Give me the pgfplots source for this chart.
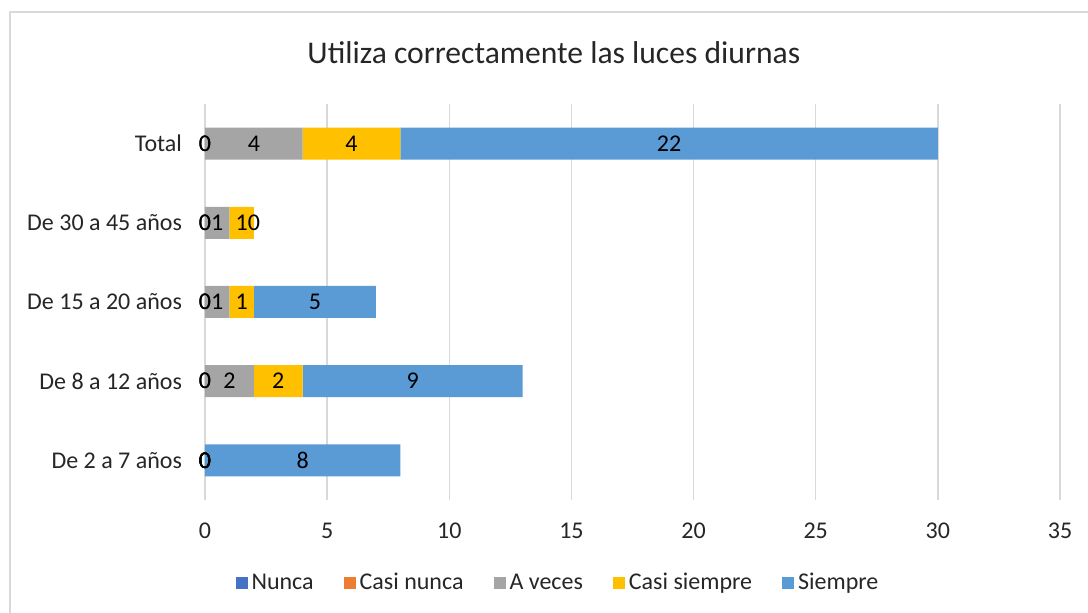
\documentclass[border=0pt]{standalone}
\usepackage{pgfplots}
\pgfplotsset{compat=1.18}
\usepackage{pgfplotstable}
\usepackage{fontspec}
\setmainfont{Carlito}

\definecolor{cNunca}{HTML}{4472C4}
\definecolor{cCasiNunca}{HTML}{ED7D31}
\definecolor{cAVeces}{HTML}{A5A5A5}
\definecolor{cCasiSiempre}{HTML}{FFC000}
\definecolor{cSiempre}{HTML}{5B9BD5}
\definecolor{gridgray}{HTML}{D9D9D9}
\definecolor{txt}{HTML}{262626}

% y: 0 = De 2 a 7 ... 4 = Total
\pgfplotstableread{
y nunca casinunca aveces casisiempre siempre
0 0 0 0 0 8
1 0 0 2 2 9
2 0 0 1 1 5
3 0 0 1 1 0
4 0 0 4 4 22
}\datos

\begin{document}
\begin{tikzpicture}
\begin{axis}[
    at={(0,0)}, anchor=south west,
    scale only axis,
    width=427.5pt, height=198pt,
    xbar stacked, bar width=16pt,
    xmin=0, xmax=35, ymin=-0.5, ymax=4.5,
    clip=false,
    xtick={0,5,...,35},
    ytick={0,...,4},
    yticklabels={De 2 a 7 años, De 8 a 12 años, De 15 a 20 años, De 30 a 45 años, Total},
    axis line style={draw=none},
    major tick length=0pt,
    xmajorgrids,
    major grid style={draw=gridgray, line width=0.75pt},
    ticklabel style={font=\fontsize{12}{14}\selectfont, text=txt},
    xticklabel style={yshift=-8pt},
    yticklabel style={xshift=-8pt},
    /pgf/number format/assume math mode=true,
    title={Utiliza correctamente las luces diurnas},
    title style={at={(0.408,1.099)}, anchor=center, font=\fontsize{15.8}{19}\selectfont, text=txt},
    legend style={at={(0.414,-0.2096)}, anchor=center, draw=none, fill=none,
        legend columns=5, font=\fontsize{12}{14}\selectfont, text=txt,
        /tikz/every even column/.append style={column sep=13pt}},
    legend image code/.code={\fill[#1] (0pt,-3pt) rectangle (6pt,3pt);},
    % label layer: an unstacked, invisible bar whose label sits at its middle,
    % so its length is (start of segment)*2 + value
    lbl/.style={draw=none, fill=none, forget plot, stack plots=false,
        nodes near coords, point meta=explicit,
        every node near coord/.append style={anchor=center, inner sep=0pt,
            font=\fontsize{12}{14}\selectfont, text=black}},
]
\addplot[fill=cNunca, draw=none] table[x=nunca, y=y]{\datos};
\addlegendentry{Nunca}
\addplot[fill=cCasiNunca, draw=none] table[x=casinunca, y=y]{\datos};
\addlegendentry{Casi nunca}
\addplot[fill=cAVeces, draw=none] table[x=aveces, y=y]{\datos};
\addlegendentry{A veces}
\addplot[fill=cCasiSiempre, draw=none] table[x=casisiempre, y=y]{\datos};
\addlegendentry{Casi siempre}
\addplot[fill=cSiempre, draw=none] table[x=siempre, y=y]{\datos};
\addlegendentry{Siempre}

\addplot[lbl] table[x expr=\thisrow{nunca}, y=y, meta=nunca]{\datos};
\addplot[lbl] table[x expr=2*\thisrow{nunca}+\thisrow{casinunca}, y=y, meta=casinunca]{\datos};
\addplot[lbl] table[x expr=2*(\thisrow{nunca}+\thisrow{casinunca})+\thisrow{aveces}, y=y, meta=aveces]{\datos};
\addplot[lbl] table[x expr=2*(\thisrow{nunca}+\thisrow{casinunca}+\thisrow{aveces})+\thisrow{casisiempre}, y=y, meta=casisiempre]{\datos};
\addplot[lbl] table[x expr=2*(\thisrow{nunca}+\thisrow{casinunca}+\thisrow{aveces}+\thisrow{casisiempre})+\thisrow{siempre}, y=y, meta=siempre]{\datos};
\end{axis}
\pgfresetboundingbox
\path[use as bounding box] (-102.5pt,-56.5pt) rectangle (441.5pt,250pt);
\draw[gridgray, line width=0.75pt] (-97.5pt,-60pt) -- (-97.5pt,244pt) -- (450pt,244pt);
\end{tikzpicture}
\end{document}
